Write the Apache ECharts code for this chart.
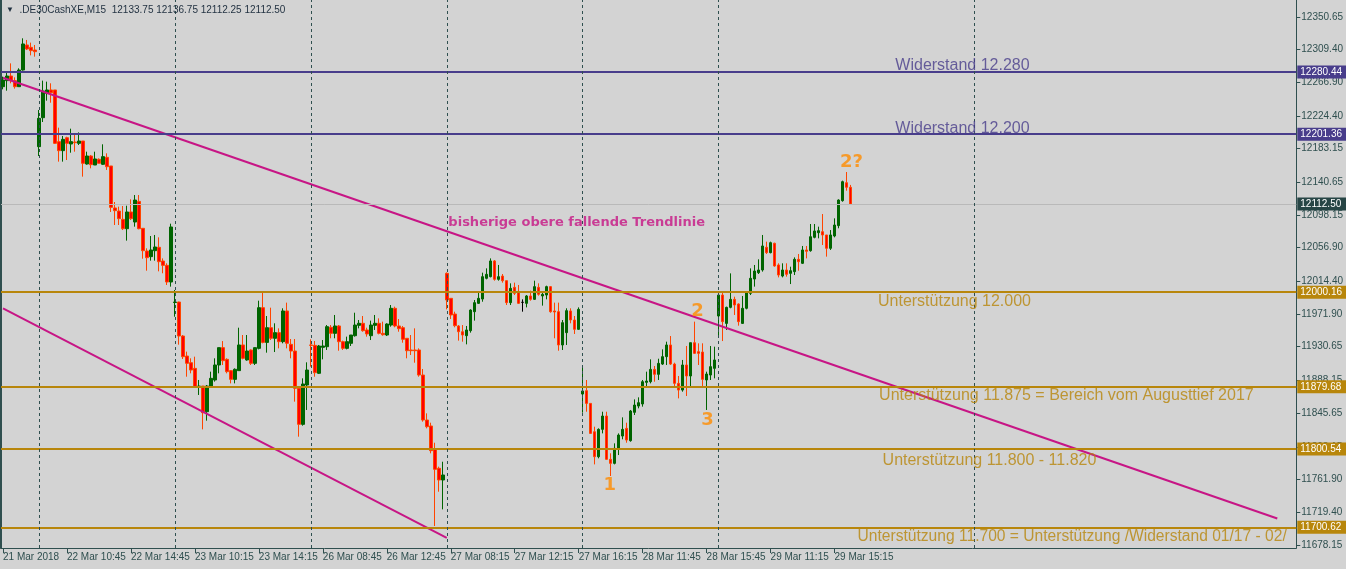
<!DOCTYPE html>
<html><head><meta charset="utf-8">
<script src="https://cdn.jsdelivr.net/npm/echarts@6/dist/echarts.min.js"></script>
<style>html,body{margin:0;padding:0;background:#d3d3d3}#c{width:1346px;height:569px}</style>
</head><body><div id="c"></div>
<script>
const symbolName = '.DE30CashXE,M15';

const open = [
12261.9,12269.6,12275.5,12269.6,12261.9,12283.1,12315.0,12312.0,12308.6,12185.5,
12222.4,12253.4,12257.7,12257.7,12191.9,12180.4,12196.9,12188.9,12191.4,12189.7,
12192.7,12163.4,12173.6,12162.1,12169.4,12163.0,12171.9,12160.9,12107.4,12103.5,
12092.9,12081.0,12102.3,12089.5,12115.8,12081.5,12052.6,12045.4,12053.0,12057.3,
12039.8,12034.3,12013.1,11987.0,11987.6,11944.3,11918.8,11910.3,11903.1,11878.9,
11880.6,11847.9,11878.9,11888.3,11907.4,11929.5,11914.6,11900.2,11889.1,11900.2,
11932.9,11913.8,11926.5,11909.5,11928.6,11980.4,11936.2,11954.9,11941.4,11948.6,
11937.1,11976.2,11933.7,11925.2,11877.7,11831.8,11881.9,11932.9,11932.4,11896.8,
11929.9,11930.7,11955.4,11947.7,11957.1,11937.1,11928.6,11935.0,11944.7,11957.9,
11960.5,11952.0,11944.7,11957.9,11960.5,11947.7,11945.6,11958.3,11979.6,11957.1,
11954.9,11941.4,11926.5,11926.5,11926.5,11894.6,11837.3,11829.7,11800.0,11775.8,
11760.9,12024.1,11992.3,11972.3,11957.1,11949.8,11944.7,11951.1,11975.3,11985.9,
11991.4,12017.8,12019.9,12039.9,12016.5,12020.7,12014.8,11986.8,12006.3,12000.8,
11987.2,11985.9,11995.3,11991.0,12006.3,11995.3,11996.5,12007.2,11976.2,11975.3,
11932.9,11948.6,11976.2,11964.7,11952.8,11870.4,11874.7,11858.5,11822.4,11790.6,
11825.4,11842.4,11787.2,11782.1,11800.0,11816.9,11826.7,11811.0,11847.1,11855.1,
11857.7,11885.3,11886.1,11901.8,11895.5,11908.6,11918.0,11932.9,11908.6,11884.0,
11875.5,11907.4,11893.4,11935.8,11924.4,11923.9,11888.3,11894.6,11903.1,11969.8,
11996.5,11960.4,11980.8,11991.0,11985.1,11960.4,11979.6,11998.7,12016.9,12025.0,
12028.4,12057.3,12050.5,12062.4,12034.8,12020.7,12028.4,12024.1,12026.3,12042.0,
12036.9,12053.9,12053.0,12070.0,12075.9,12077.2,12073.0,12056.0,12071.7,12084.9,
12116.7,12139.6,12133.75
];
const high = [
12274.7,12279.7,12291.6,12273.8,12285.3,12323.5,12321.4,12318.0,12315.0,12232.2,
12269.6,12268.3,12266.2,12257.7,12209.7,12199.1,12198.2,12208.4,12200.3,12203.7,
12192.7,12179.1,12174.9,12179.1,12170.6,12188.5,12177.0,12160.9,12115.0,12109.1,
12109.9,12110.3,12118.4,12123.9,12123.9,12081.5,12056.0,12071.7,12073.0,12070.0,
12043.2,12036.9,12087.4,12002.9,11988.0,11945.6,11924.4,11915.9,11918.0,11888.3,
11880.6,11881.9,11898.9,11915.9,11929.5,11937.9,11915.9,11901.0,11903.1,11954.9,
11945.6,11945.6,11927.3,11929.9,11989.3,12001.6,11969.8,11980.4,11960.5,11954.1,
11979.6,11986.8,11940.5,11940.5,11879.8,11890.4,11910.8,11940.1,11938.0,11932.9,
11939.2,11958.3,11958.3,11971.1,11958.3,11938.4,11943.5,11945.6,11974.0,11964.7,
11969.8,11954.9,11963.9,11971.1,11966.8,11962.6,11960.5,11983.8,11981.7,11966.0,
11957.1,11941.4,11945.6,11954.1,11928.6,11902.3,11845.8,11833.9,11808.4,11777.9,
11784.2,12025.4,11992.3,11975.3,11958.3,11958.3,11957.1,11978.3,11990.2,12001.6,
12025.0,12030.5,12043.2,12041.1,12034.8,12023.3,12014.8,12011.4,12012.3,12009.3,
11991.0,11996.5,12002.1,12014.8,12011.4,11999.5,12008.4,12008.0,11986.8,11986.8,
11964.7,11979.6,11979.6,11969.8,11980.8,11906.1,11888.3,11858.5,11828.8,11826.7,
11847.9,11847.9,11794.9,11807.6,11820.3,11840.7,11833.9,11850.1,11863.6,11866.2,
11888.3,11898.9,11914.6,11906.1,11915.4,11927.3,11937.1,11944.3,11910.3,11893.4,
11913.8,11931.6,11935.8,11962.6,11935.0,11935.0,11898.9,11931.6,11930.7,12000.8,
12000.8,11981.7,12024.1,11994.4,11985.9,11995.3,12000.8,12030.5,12034.8,12042.0,
12073.0,12064.5,12064.5,12063.2,12036.9,12036.9,12036.9,12032.6,12044.5,12048.8,
12059.0,12059.0,12087.0,12087.0,12083.6,12099.7,12073.0,12079.3,12094.2,12118.4,
12142.2,12153.2,12136.75
];
const low = [
12258.5,12256.8,12266.2,12259.4,12261.9,12282.3,12308.6,12301.8,12300.1,12173.6,
12216.9,12244.1,12241.5,12188.9,12166.4,12166.4,12168.5,12177.8,12179.1,12187.6,
12147.3,12162.6,12157.9,12162.1,12164.3,12162.1,12155.8,12102.3,12085.7,12085.7,
12079.3,12065.8,12092.1,12083.6,12080.2,12042.8,12027.5,12040.3,12040.3,12026.7,
12024.2,12009.3,12007.2,11968.9,11933.3,11915.0,11892.5,11896.8,11878.9,11869.2,
11825.4,11836.5,11878.9,11886.2,11896.8,11907.4,11896.8,11884.0,11884.0,11900.2,
11914.6,11912.9,11907.4,11907.4,11927.3,11935.0,11923.1,11939.2,11923.9,11928.6,
11935.0,11928.6,11915.9,11860.7,11816.1,11830.1,11850.1,11905.3,11892.5,11895.9,
11914.6,11926.5,11941.4,11941.4,11925.6,11926.5,11927.3,11931.6,11943.5,11954.1,
11949.8,11943.5,11939.2,11952.0,11946.4,11944.7,11944.3,11956.2,11955.4,11949.8,
11935.8,11915.9,11920.1,11910.3,11892.5,11835.2,11826.7,11794.9,11702.3,11746.0,
11723.5,11978.3,11966.0,11955.4,11938.4,11937.1,11933.7,11948.6,11963.9,11985.1,
11988.0,12016.5,12019.0,12014.8,12014.8,12012.3,11983.8,11983.8,11996.5,11985.1,
11975.3,11980.8,11989.3,11990.2,11995.7,11983.0,11991.0,11974.0,11941.4,11925.6,
11926.5,11932.9,11960.5,11946.9,11952.0,11846.7,11847.9,11819.5,11780.8,11788.5,
11820.3,11786.4,11766.0,11780.8,11792.7,11812.7,11808.4,11809.7,11843.7,11852.2,
11854.3,11879.8,11884.0,11886.1,11888.3,11907.4,11907.4,11907.4,11879.8,11864.9,
11873.4,11867.9,11879.8,11921.4,11907.4,11878.9,11850.1,11888.3,11890.4,11945.6,
11937.9,11952.0,11979.6,11971.1,11957.5,11959.6,11978.3,11996.5,12007.2,12023.3,
12026.3,12048.8,12049.6,12032.6,12019.0,12019.0,12019.9,12010.5,12022.0,12027.5,
12036.0,12043.2,12051.7,12068.7,12068.7,12060.2,12045.4,12053.9,12070.0,12081.5,
12115.4,12129.4,12112.25
];
const close = [
12270.4,12275.5,12269.6,12261.9,12283.1,12316.3,12309.9,12307.8,12306.5,12221.6,
12256.4,12257.7,12254.3,12189.7,12180.4,12194.8,12189.7,12191.9,12190.6,12192.7,
12164.3,12173.6,12162.6,12169.8,12164.3,12172.8,12160.0,12108.2,12104.0,12093.8,
12081.0,12102.3,12093.8,12117.5,12081.0,12053.0,12044.1,12053.9,12057.7,12039.0,
12034.3,12013.1,12083.2,11987.6,11944.3,11918.0,11909.5,11901.0,11878.9,11880.6,
11846.7,11880.6,11890.4,11907.4,11929.5,11912.9,11898.9,11889.1,11901.9,11932.9,
11915.9,11925.2,11909.5,11929.5,11980.4,11936.2,11954.9,11941.4,11948.6,11937.1,
11976.2,11935.0,11925.2,11877.7,11831.8,11883.2,11901.0,11932.4,11897.6,11931.6,
11931.6,11956.2,11947.7,11957.1,11937.1,11928.6,11937.1,11945.6,11958.3,11960.5,
11951.1,11946.9,11958.3,11960.5,11947.7,11946.0,11959.6,11979.6,11957.1,11953.7,
11940.1,11925.6,11925.6,11925.6,11894.6,11837.3,11828.8,11798.3,11774.5,11760.9,
11767.3,11990.2,11971.1,11957.5,11949.8,11945.6,11952.0,11977.4,11986.8,11992.3,
12019.9,12022.9,12039.9,12016.5,12019.9,12014.8,11986.8,12005.0,11998.7,11985.9,
11987.2,11995.3,11991.0,12007.2,11997.4,11997.4,12007.2,11975.3,11974.9,11932.9,
11961.3,11976.6,11964.7,11952.8,11978.3,11874.3,11858.5,11820.3,11790.6,11825.4,
11842.4,11787.2,11782.1,11801.2,11818.2,11825.4,11811.8,11848.8,11856.4,11859.4,
11886.1,11887.0,11901.8,11895.5,11909.5,11918.0,11932.9,11908.6,11884.0,11875.5,
11907.4,11893.4,11935.8,11922.2,11922.2,11889.1,11895.9,11905.3,11913.8,11996.5,
11962.6,11980.8,11991.0,11983.8,11962.6,11979.6,11999.5,12017.8,12027.1,12028.4,
12059.0,12050.5,12063.2,12033.5,12022.0,12028.4,12022.9,12027.5,12042.0,12039.0,
12053.9,12052.2,12070.8,12078.1,12078.5,12073.0,12056.0,12073.0,12085.7,12117.5,
12140.9,12133.75,12112.50
];

const xLabels = ['21 Mar 2018','22 Mar 10:45','22 Mar 14:45','23 Mar 10:15','23 Mar 14:15','26 Mar 08:45','26 Mar 12:45','27 Mar 08:15','27 Mar 12:15','27 Mar 16:15','28 Mar 11:45','28 Mar 15:45','29 Mar 11:15','29 Mar 15:15'];
const barsPerLabel = 16;
const totalSlots = 324;
const yTicks = [12350.65,12309.40,12266.90,12224.40,12183.15,12140.65,12098.15,12056.90,12014.40,11971.90,11930.65,11888.15,11845.65,11803.15,11761.90,11719.40,11678.15];
const yMin = 11674.3, yMax = 12372.3;

const resistanceLevels = [12280.44, 12201.36];
const supportLevels = [12000.16, 11879.68, 11800.54, 11700.62];
const bidPrice = 12112.50;
const daySeparators = [9, 43, 77, 111, 145, 179, 243];
const upperTrend = [[0, 12273.3], [318.75, 11711.9]];
const lowerTrend = [[0, 11979.6], [111, 11687.1]];

const levelNotes = [
  {text: 'Widerstand 12.280', at: [240, 12288.2], kind: 'res'},
  {text: 'Widerstand 12.200', at: [240, 12208.0], kind: 'res'},
  {text: 'Unterstützung 12.000', at: [238, 11987.6], kind: 'sup'},
  {text: 'Unterstützung 11.875 = Bereich vom Augusttief 2017', at: [266, 11867.9], kind: 'sup'},
  {text: 'Unterstützung 11.800 - 11.820', at: [246.75, 11785.1], kind: 'sup'},
  {text: 'Unterstützung 11.700 = Unterstützung /Widerstand 01/17 - 02/17', at: [213.75, 11688.3], kind: 'supLeft'}
];
const trendNote = {text: 'bisherige obere fallende Trendlinie', at: [143.5, 12088.3]};
const waveNotes = [
  {text: '1', at: [151.75, 11754.6]},
  {text: '2', at: [173.75, 11976.2]},
  {text: '3', at: [176.25, 11837.4]},
  {text: '2?', at: [212.25, 12166.0]}
];

const C_RES = '#483d8b', C_SUP = '#b8860b', C_TREND = '#c71585', C_AX = '#2f4f4f', C_WAVE = '#ff8c00';
const FONT = 'Liberation Sans';

const candles = open.map((o, i) => [o, close[i], low[i], high[i]]);
const cats = Array.from({length: totalSlots}, (_, i) => i);
const showLabel = (i) => i % barsPerLabel === 0 && i / barsPerLabel < xLabels.length;
const last = candles.length - 1;
const header = [open[last], high[last], low[last], close[last]].map(v => v.toFixed(2)).join(' ');

function priceBox(bg) {
  return {show: true, position: 'end', distance: 1, formatter: (p) => Number(p.value).toFixed(2),
    color: '#ffffff', backgroundColor: bg, fontSize: 10, fontFamily: FONT, padding: [1, 5, 0, 3], lineHeight: 12};
}

const markData = [];
resistanceLevels.forEach(v => markData.push({yAxis: v, lineStyle: {color: C_RES, width: 2, type: 'solid'}, label: priceBox(C_RES)}));
supportLevels.forEach(v => markData.push({yAxis: v, lineStyle: {color: C_SUP, width: 2, type: 'solid'}, label: priceBox(C_SUP)}));
markData.push({yAxis: bidPrice, lineStyle: {color: '#b9b9b9', width: 1, type: 'solid'}, label: priceBox('#274545')});
daySeparators.forEach(x => markData.push({xAxis: x, lineStyle: {color: C_AX, width: 1, type: [3, 3]}, label: {show: false}}));

const noteData = levelNotes.map(n => ({
  value: n.at,
  label: Object.assign({show: true, position: 'inside', formatter: n.text, fontSize: 16, fontFamily: FONT,
    color: n.kind === 'res' ? C_RES : C_SUP},
    n.kind === 'supLeft' ? {align: 'left', fontSize: 15.6, width: 446, overflow: 'truncate', ellipsis: ''} : {align: 'center'})
}));
noteData.push({value: trendNote.at, label: {show: true, position: 'inside', formatter: trendNote.text, fontSize: 13, fontWeight: 'bold', fontFamily: 'DejaVu Sans', color: C_TREND}});
waveNotes.forEach(w => noteData.push({value: w.at, label: {show: true, position: 'inside', formatter: w.text, fontSize: 18, fontWeight: 'bold', fontFamily: 'DejaVu Sans', color: C_WAVE}}));

const chart = echarts.init(document.getElementById('c'));
chart.setOption({
  backgroundColor: '#d3d3d3',
  animation: false,
  title: {
    text: '{t|▼}  ' + symbolName + '  ' + header,
    left: 6, top: 5, padding: 0,
    textStyle: {fontSize: 10, fontWeight: 'normal', color: '#1f2f3f', fontFamily: FONT,
      rich: {t: {fontSize: 8, color: '#1f2f3f'}}}
  },
  grid: {left: 1, right: 47, top: 0, bottom: 21, show: false},
  xAxis: [
    {type: 'category', data: cats, boundaryGap: true,
      axisLine: {show: true, onZero: false, lineStyle: {color: C_AX}},
      axisTick: {show: true, length: 5, alignWithLabel: true, interval: (i) => showLabel(i), lineStyle: {color: C_AX}},
      axisLabel: {interval: (i) => showLabel(i), formatter: (v) => { const i = +v; return showLabel(i) ? xLabels[i / barsPerLabel] : ''; },
        align: 'left', margin: 4, color: C_AX, fontSize: 10, fontFamily: FONT},
      splitLine: {show: false}},
    {type: 'value', min: -0.5, max: totalSlots - 0.5, show: false}
  ],
  yAxis: [
    {type: 'value', position: 'right', min: yMin, max: yMax,
      axisLine: {show: true, onZero: false, lineStyle: {color: C_AX}},
      axisTick: {show: true, inside: false, length: 4, customValues: yTicks, lineStyle: {color: C_AX}},
      axisLabel: {customValues: yTicks, formatter: (v) => Number(v).toFixed(2), color: C_AX, fontSize: 10, fontFamily: FONT, margin: 5},
      splitLine: {show: false}},
    {type: 'value', position: 'left', min: yMin, max: yMax,
      axisLine: {show: true, onZero: false, lineStyle: {color: C_AX, width: 2}},
      axisTick: {show: false}, axisLabel: {show: false}, splitLine: {show: false}}
  ],
  series: [
    {type: 'candlestick', data: candles, barWidth: 3,
      itemStyle: {color: '#006400', color0: '#ff0000', borderColor: '#006400', borderColor0: '#ff4500', borderColorDoji: '#000000', borderWidth: 1}},
    {type: 'line', xAxisIndex: 1, data: upperTrend, symbol: 'none', silent: true,
      lineStyle: {color: C_TREND, width: 2},
      markLine: {symbol: 'none', silent: true, animation: false, data: markData}},
    {type: 'line', xAxisIndex: 1, data: lowerTrend, symbol: 'none', silent: true, lineStyle: {color: C_TREND, width: 2}},
    {type: 'scatter', xAxisIndex: 1, data: noteData, symbolSize: 1, silent: true, itemStyle: {color: 'rgba(0,0,0,0)'}, z: 5}
  ]
});
</script>
</body></html>
